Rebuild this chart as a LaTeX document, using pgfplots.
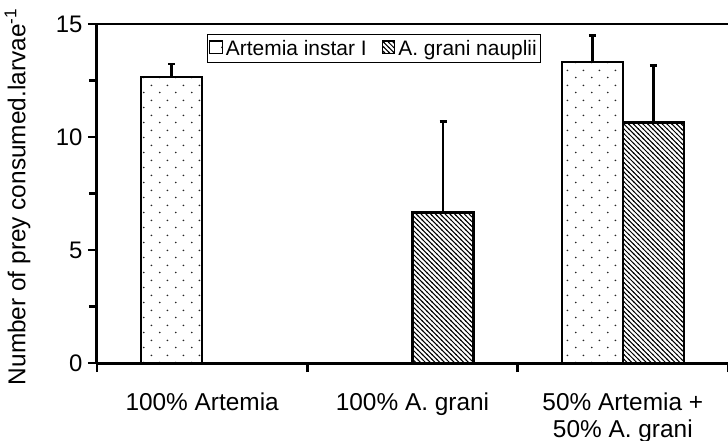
\documentclass[border=0pt]{standalone}
\usepackage{pgfplots}
\pgfplotsset{compat=1.18}
\usepackage{fontspec}
\setmainfont{Liberation Sans}
\usetikzlibrary{patterns}

\pgfdeclarepatternformonly{sparsedots}{\pgfpoint{0bp}{0bp}}{\pgfpoint{15.6bp}{15bp}}{\pgfpoint{15.6bp}{15bp}}{%
  \pgfpathcircle{\pgfpoint{3.9bp}{3.75bp}}{0.95bp}%
  \pgfpathcircle{\pgfpoint{11.7bp}{11.25bp}}{0.95bp}%
  \pgfusepath{fill}}
\pgfdeclarepatternformonly{densehatch}{\pgfpoint{-1bp}{-1bp}}{\pgfpoint{5.8bp}{5.8bp}}{\pgfpoint{4.8bp}{4.8bp}}{%
  \pgfsetlinewidth{1bp}%
  \pgfpathmoveto{\pgfpoint{-0.5bp}{5.3bp}}%
  \pgfpathlineto{\pgfpoint{5.3bp}{-0.5bp}}%
  \pgfusepath{stroke}}

\begin{document}
\begin{tikzpicture}
\begin{axis}[
  scale only axis,
  width=631bp, height=339bp,
  xmin=-0.5, xmax=2.5, ymin=0, ymax=15,
  axis x line*=bottom, axis y line*=left,
  axis line style={line width=3bp},
  tick style={line width=2.5bp, black},
  tick align=outside,
  major tick length=9bp, minor tick length=8bp,
  ytick={0,5,10,15}, minor y tick num=1,
  xtick={-0.5,0.5,1.5,2.5}, xticklabels={},
  extra x ticks={0,1,2},
  extra x tick labels={100\% Artemia,100\% A. grani,{50\% Artemia +\\50\% A. grani}},
  extra x tick style={major tick length=0pt, tick label style={align=center, yshift=-26bp, font=\fontsize{24.5}{27}\selectfont}},
  /pgf/number format/assume math mode=true,
  yticklabel style={font=\fontsize{24}{27}\selectfont, xshift=-2bp},
  ylabel={Number of prey consumed.larvae\textsuperscript{-1}},
  ylabel style={font=\fontsize{24.5}{28}\selectfont, at={(axis description cs:-0.1,0.49)}, anchor=south},
  ybar=0pt, bar width=61bp,
  legend style={at={(axis description cs:0.174,0.97)}, anchor=north west, draw=black, line width=1bp,
    font=\fontsize{21}{24}\selectfont, inner xsep=2bp, inner ysep=3.5bp, legend columns=2,
    /tikz/every odd column/.append style={column sep=1bp},
    /tikz/every even column/.append style={column sep=13bp}},
  legend image code/.code={\draw[#1, line width=1.2bp] (0bp,-5bp) rectangle (12.5bp,7.5bp);},
  error bars/y dir=plus, error bars/y explicit,
  error bars/error mark=|,
  error bars/error mark options={line width=2.5bp, mark size=3.5bp, black},
  error bars/error bar style={line width=2.5bp, black},
]
\addplot[draw=black, line width=2.5bp, fill=white, postaction={pattern=sparsedots, pattern color=black!85}]
  coordinates {(0,12.65) +- (0,0.59) (2,13.31) +- (0,1.18)};
\addplot[draw=black, line width=2.5bp, fill=white, postaction={pattern=densehatch, pattern color=black}]
  coordinates {(1,6.65) +- (0,4.03) (2,10.64) +- (0,2.53)};
\legend{Artemia instar I, A. grani nauplii}
\draw[line width=3bp] (rel axis cs:0,1) -- (rel axis cs:1,1);
\end{axis}
\pgfresetboundingbox
\useasboundingbox ([shift={(-97bp,-78bp)}]current axis.south west) rectangle ([shift={(0bp,24bp)}]current axis.north east);
\end{tikzpicture}
\end{document}
